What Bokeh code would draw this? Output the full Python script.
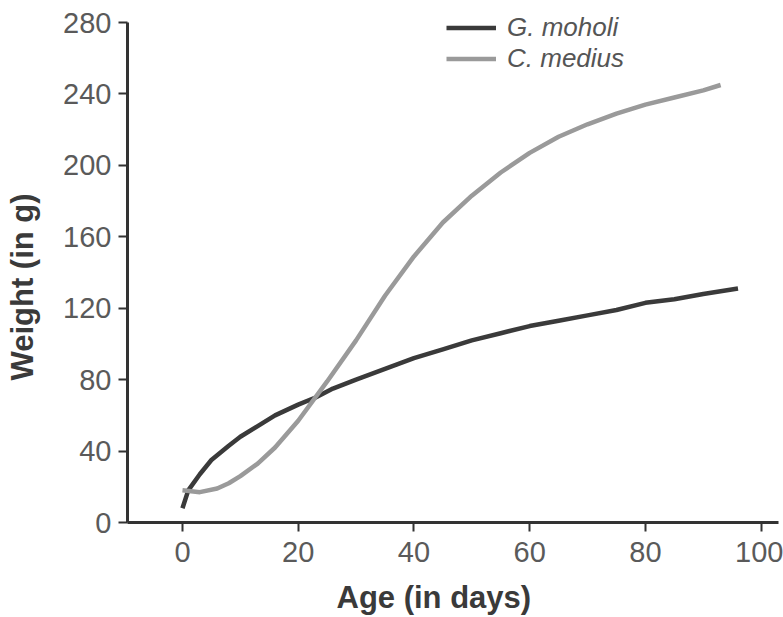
from bokeh.plotting import figure
from bokeh.embed import file_html
from bokeh.resources import INLINE
from bokeh.models import Legend, LegendItem, FixedTicker, LinearAxis, Title

# Data
moholi_age = [0, 1, 3, 5, 8, 10, 13, 16, 20, 23, 26, 30, 35, 40, 45, 50, 55, 60, 65, 70, 75, 80, 85, 90, 96]
moholi_weight = [8, 18, 27, 35, 43, 48, 54, 60, 66, 70, 75, 80, 86, 92, 97, 102, 106, 110, 113, 116, 119, 123, 125, 128, 131]

medius_age = [0, 3, 6, 8, 10, 13, 16, 20, 25, 30, 35, 40, 45, 50, 55, 60, 65, 70, 75, 80, 85, 90, 93]
medius_weight = [18, 17, 19, 22, 26, 33, 42, 57, 79, 102, 127, 149, 168, 183, 196, 207, 216, 223, 229, 234, 238, 242, 245]

x_ticks = [0, 20, 40, 60, 80, 100]
y_ticks = [0, 40, 80, 120, 160, 200, 240, 280]
series_names = ["G. moholi", "C. medius"]
x_label = "Age (in days)"
y_label = "Weight (in g)"

p = figure(width=783, height=617, output_backend="svg", toolbar_location=None,
           x_range=(-9.5, 103), y_range=(0, 291.2),
           min_border_left=126, min_border_right=5, min_border_top=2, min_border_bottom=95)
p.outline_line_color = None
p.xgrid.visible = False
p.ygrid.visible = False

r1 = p.line(moholi_age, moholi_weight, line_color="#3a3a3a", line_width=4.5)
r2 = p.line(medius_age, medius_weight, line_color="#9a9a9a", line_width=4.5)

for ax in (p.xaxis[0], p.yaxis[0]):
    ax.axis_line_color = "#333333"
    ax.axis_line_width = 3
    ax.major_tick_line_color = "#333333"
    ax.major_tick_line_width = 2
    ax.major_tick_out = 9
    ax.major_tick_in = 0
    ax.minor_tick_line_color = None
    ax.major_label_text_font = "Liberation Sans"
    ax.major_label_text_font_size = "29px"
    ax.major_label_text_color = "#5a5a5a"

p.yaxis.bounds = (0, 280)
p.xaxis.ticker = FixedTicker(ticks=x_ticks)
p.yaxis.ticker = FixedTicker(ticks=y_ticks)
p.xaxis.major_label_standoff = 10
p.yaxis.major_label_standoff = 7


def spacer(size):
    # invisible axis used only to reserve space between tick labels and title
    return LinearAxis(ticker=FixedTicker(ticks=[]), axis_line_color=None,
                      major_tick_line_color=None, minor_tick_line_color=None,
                      major_tick_out=0, major_tick_in=0, major_label_standoff=0,
                      axis_label="\u00a0", axis_label_text_font_size="1px",
                      axis_label_standoff=size)


p.add_layout(spacer(7), "below")
p.add_layout(Title(text=x_label, align="left", offset=209, text_font="Liberation Sans",
                   text_font_size="31px", text_font_style="bold", text_color="#3a3a3a",
                   standoff=4), "below")
p.add_layout(spacer(15), "left")
p.add_layout(Title(text=y_label, align="left", offset=142, text_font="Liberation Sans",
                   text_font_size="31px", text_font_style="bold", text_color="#3a3a3a",
                   standoff=4), "left")

legend = Legend(items=[LegendItem(label=series_names[0], renderers=[r1]),
                       LegendItem(label=series_names[1], renderers=[r2])])
legend.border_line_color = None
legend.background_fill_alpha = 0
legend.label_text_font = "Liberation Sans"
legend.label_text_font_style = "italic"
legend.label_text_font_size = "26px"
legend.label_text_color = "#555555"
legend.glyph_width = 50
legend.glyph_height = 27
legend.label_height = 27
legend.spacing = 0
legend.padding = 0
legend.margin = 0
legend.label_standoff = 11
legend.location = (319, 448)
p.add_layout(legend, "center")

open("out.html", "w").write(file_html(p, INLINE))
